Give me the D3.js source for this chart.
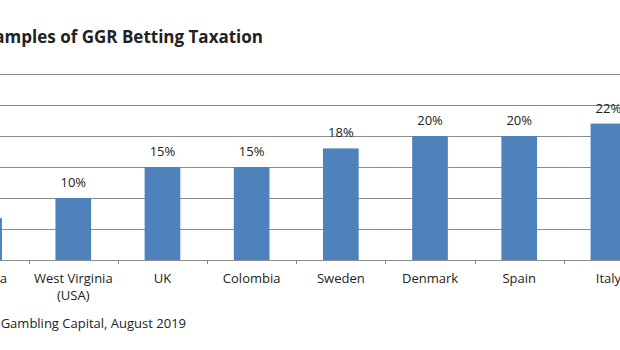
<!DOCTYPE html>
<html>
    <head>
        <style>
            body { margin: 0; background: #fff; overflow: hidden; }
            svg text { font-family: "Open Sans", "Liberation Sans", sans-serif; fill: #222; }
        </style>
        <script src="https://cdnjs.cloudflare.com/ajax/libs/d3/7.0.4/d3.min.js" charset="utf-8"></script>
    </head>
    <body>
        <div id="chart"></div>
        <script>
            // data
            const countries = ["Nevada", "West Virginia (USA)", "UK", "Colombia", "Sweden", "Denmark", "Spain", "Italy"];
            const taxRates = [6.75, 10, 15, 15, 18, 20, 20, 22];
            const yTicks = [0, 5, 10, 15, 20, 25, 30];

            const w = 620;
            const h = 350;

            const svg = d3.select("#chart")
                .append("svg")
                .attr("width", w)
                .attr("height", h);

            // the picture is cropped, so the plot runs past both edges
            const xScale = d3.scaleBand()
                .domain(countries)
                .range([-60.5, 653])
                .paddingInner(0.6)
                .paddingOuter(0.3);

            const yScale = d3.scaleLinear()
                .domain([0, 30])
                .range([260, 74]);

            // gridlines
            svg.append("g")
                .selectAll("line")
                .data(yTicks)
                .enter()
                .append("line")
                .attr("x1", -60)
                .attr("x2", 653)
                .attr("y1", d => Math.round(yScale(d)) + 0.5)
                .attr("y2", d => Math.round(yScale(d)) + 0.5)
                .attr("stroke", "#8c8c8c")
                .attr("stroke-width", 1);

            // tick marks between categories
            const step = xScale.step();
            svg.append("g")
                .selectAll("line")
                .data(countries)
                .enter()
                .append("line")
                .attr("x1", d => Math.round(xScale(d) + xScale.bandwidth() + step * 0.3) + 0.5)
                .attr("x2", d => Math.round(xScale(d) + xScale.bandwidth() + step * 0.3) + 0.5)
                .attr("y1", yScale(0))
                .attr("y2", yScale(0) + 4)
                .attr("stroke", "#8c8c8c");

            svg.selectAll("rect.bar")
                .data(taxRates)
                .enter()
                .append("rect")
                .attr("class", "bar")
                .attr("x", (d, i) => xScale(countries[i]))
                .attr("y", d => yScale(d))
                .attr("width", xScale.bandwidth())
                .attr("height", d => yScale(0) - yScale(d))
                .attr("fill", "#4f81bd");

            // value labels
            svg.selectAll("text.val")
                .data(taxRates)
                .enter()
                .append("text")
                .attr("class", "val")
                .attr("x", (d, i) => xScale(countries[i]) + xScale.bandwidth() / 2)
                .attr("y", d => yScale(d) - 11)
                .attr("text-anchor", "middle")
                .style("font-size", "13px")
                .text(d => Math.round(d) + "%");

            // category labels, wrapped like excel does
            const cat = svg.selectAll("text.cat")
                .data(countries)
                .enter()
                .append("text")
                .attr("class", "cat")
                .attr("x", d => xScale(d) + xScale.bandwidth() / 2)
                .attr("y", 283)
                .attr("text-anchor", "middle")
                .style("font-size", "13px");
            cat.each(function(d) {
                const parts = d === "West Virginia (USA)" ? ["West Virginia", "(USA)"] : [d];
                parts.forEach((p, j) => {
                    d3.select(this).append("tspan")
                        .attr("x", xScale(d) + xScale.bandwidth() / 2)
                        .attr("dy", j === 0 ? 0 : 17)
                        .text(p);
                });
            });

            svg.append("text")
                .attr("x", 263)
                .attr("y", 43)
                .attr("text-anchor", "end")
                .style("font-size", "17px")
                .style("font-weight", "bold")
                .text("Examples of GGR Betting Taxation");

            svg.append("text")
                .attr("x", 186)
                .attr("y", 328)
                .attr("text-anchor", "end")
                .style("font-size", "13px")
                .text("Source: H2 Gambling Capital, August 2019");
        </script>
    </body>
</html>
